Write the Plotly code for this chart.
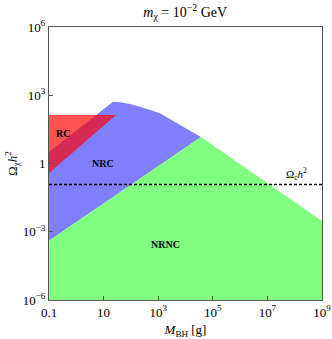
import plotly.graph_objects as go

# ---- data ----
green_top_M = [0.1, 3.7e4, 1e9]
green_top_Omega = [4.0e-4, 14.6, 2.95e-3]

blue_top_M = [0.1, 22.1, 39.9, 92.7, 215, 500, 1164, 6295, 3.7e4]
blue_top_Omega = [3.2, 521, 490, 412, 314, 225, 161, 49, 14.6]

red_M = [0.1, 25.7, 0.1]
red_Omega = [129, 129, 0.4]

omega_c = 0.12
x_range = [0.1, 1e9]
y_min = 1e-6

x_tickvals = [0.1, 10, 1e3, 1e5, 1e7, 1e9]
x_ticktext = ["0.1", "10", "10<sup>3</sup>", "10<sup>5</sup>", "10<sup>7</sup>", "10<sup>9</sup>"]
y_tickvals = [1e-6, 1e-3, 1, 1e3, 1e6]
y_ticktext = ["10<sup>−6</sup>", "10<sup>−3</sup>", "1", "10<sup>3</sup>", "10<sup>6</sup>"]

FONT = "Liberation Serif"
BLUE = "rgb(128,128,255)"
GREEN = "rgb(128,255,128)"

fig = go.Figure()

# NRC (blue) region: between green top and blue top
blue_x = list(green_top_M[:2]) + list(reversed(blue_top_M))
blue_y = list(green_top_Omega[:2]) + list(reversed(blue_top_Omega))
fig.add_trace(go.Scatter(x=blue_x, y=blue_y, fill="toself", mode="none",
                         fillcolor=BLUE, hoverinfo="skip", showlegend=False))

# NRNC (green) region
gx = [x_range[0]] + green_top_M + [x_range[1]]
gy = [y_min] + green_top_Omega + [y_min]
fig.add_trace(go.Scatter(x=gx, y=gy, fill="toself", mode="none",
                         fillcolor=GREEN, hoverinfo="skip", showlegend=False))

# RC (red, translucent) region
fig.add_trace(go.Scatter(x=red_M, y=red_Omega, fill="toself", mode="lines",
                         line=dict(color="rgba(255,0,0,0.6)", width=1),
                         fillcolor="rgba(255,0,0,0.67)", hoverinfo="skip", showlegend=False))

# observed relic density
fig.add_trace(go.Scatter(x=x_range, y=[omega_c, omega_c], mode="lines",
                         line=dict(color="black", width=1.5, dash="3px,2px"),
                         hoverinfo="skip", showlegend=False))

ann_font = dict(family=FONT, size=10, color="black")
fig.add_annotation(x=-0.49, y=1.34, text="<b>RC</b>", showarrow=False, font=ann_font)
fig.add_annotation(x=0.98, y=0.02, text="<b>NRC</b>", showarrow=False, font=ann_font)
fig.add_annotation(x=3.25, y=-3.54, text="<b>NRNC</b>", showarrow=False, font=ann_font)
fig.add_annotation(x=8.05, y=-0.45, text="Ω<sub>c</sub><i>h</i><sup>2</sup>", showarrow=False,
                   font=dict(family=FONT, size=11, color="black"))

fig.update_layout(
    width=332, height=339,
    margin=dict(l=49, r=10, t=27, b=39, autoexpand=False),
    paper_bgcolor="white", plot_bgcolor="white",
    font=dict(family=FONT, size=12, color="black"),
    title=dict(text="<i>m</i><sub>χ</sub> = 10<sup>−2</sup> GeV", x=0.558, xanchor="center",
               y=0.965, yanchor="middle", font=dict(family=FONT, size=14), automargin=False),
)
fig.update_xaxes(type="log", range=[-1, 9], tickvals=x_tickvals, ticktext=x_ticktext,
                 ticks="inside", ticklen=4, tickcolor="#555", showgrid=False,
                 showline=True, linecolor="#555", linewidth=1, mirror=True,
                 zeroline=False, automargin=False, tickfont=dict(size=13),
                 title=dict(text="<i>M</i><sub>BH</sub> [g]", standoff=6,
                            font=dict(family=FONT, size=13)))
fig.update_yaxes(type="log", range=[-6, 6], tickvals=y_tickvals, ticktext=y_ticktext,
                 ticks="inside", ticklen=4, tickcolor="#555", showgrid=False,
                 showline=True, linecolor="#555", linewidth=1, mirror=True,
                 zeroline=False, automargin=False, tickfont=dict(size=13),
                 title=dict(text="Ω<sub>χ</sub><i>h</i><sup>2</sup>", standoff=2,
                            font=dict(family=FONT, size=13)))

fig.write_html("out.html", config={"displayModeBar": False},
               post_script="document.body.style.margin='0';")
